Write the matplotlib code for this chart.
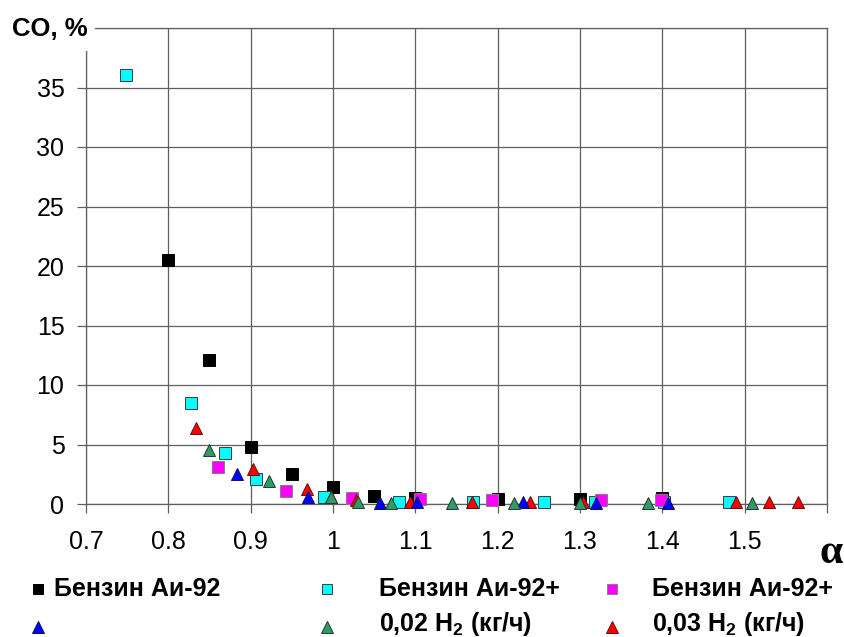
import matplotlib
matplotlib.use("Agg")
import matplotlib.pyplot as plt
from matplotlib.lines import Line2D
from matplotlib.patches import Rectangle

plt.rcParams['font.family'] = ['Liberation Sans', 'DejaVu Sans']
plt.rcParams['mathtext.default'] = 'regular'

# CO concentration vs excess air ratio
black_x = [0.80, 0.85, 0.90, 0.95, 1.00, 1.05, 1.10, 1.20, 1.30, 1.40]
black_y = [20.5, 12.1, 4.8, 2.55, 1.43, 0.65, 0.5, 0.4, 0.4, 0.5]

cyan_x = [0.748, 0.827, 0.869, 0.907, 0.989, 1.08, 1.17, 1.256, 1.318, 1.402, 1.481]
cyan_y = [36.05, 8.5, 4.3, 2.1, 0.6, 0.2, 0.17, 0.17, 0.2, 0.2, 0.17]

magenta_x = [0.86, 0.943, 1.023, 1.106, 1.193, 1.326, 1.398]
magenta_y = [3.1, 1.07, 0.5, 0.4, 0.33, 0.33, 0.37]

blue_x = [0.883, 0.97, 1.057, 1.102, 1.231, 1.32, 1.407]
blue_y = [2.5, 0.55, 0.1, 0.2, 0.15, 0.1, 0.08]

green_x = [0.849, 0.922, 0.997, 1.030, 1.071, 1.144, 1.22, 1.30, 1.383, 1.509]
green_y = [4.5, 1.9, 0.56, 0.2, 0.1, 0.1, 0.1, 0.1, 0.1, 0.1]

red_x = [0.834, 0.903, 0.968, 0.998, 1.028, 1.093, 1.169, 1.239, 1.304, 1.489, 1.529, 1.565]
red_y = [6.4, 2.94, 1.24, 0.6, 0.3, 0.2, 0.15, 0.15, 0.15, 0.15, 0.15, 0.15]

x_ticks = [0.7, 0.8, 0.9, 1.0, 1.1, 1.2, 1.3, 1.4, 1.5, 1.6]
x_labels = ['0.7', '0.8', '0.9', '1', '1.1', '1.2', '1.3', '1.4', '1.5', '']
y_ticks = [0, 5, 10, 15, 20, 25, 30, 35, 40]
y_labels = ['0', '5', '10', '15', '20', '25', '30', '35', '']

leg_row1 = ['Бензин Аи-92', 'Бензин Аи-92+', 'Бензин Аи-92+']
leg_row2 = ['', '0,02 H$_2$ (кг/ч)', '0,03 H$_2$ (кг/ч)']

sq_style = dict(marker='s', markersize=8, markeredgewidth=0.7)
tri_style = dict(marker='^', markersize=9, markeredgewidth=0.7)

series = [
    (black_x, black_y, dict(sq_style, color='black', markeredgecolor='black')),
    (cyan_x, cyan_y, dict(sq_style, color='#00ffff', markeredgecolor='#3c3c3c')),
    (magenta_x, magenta_y, dict(sq_style, color='#ff00ff', markeredgecolor='#808080')),
    (red_x, red_y, dict(tri_style, color='#ff0000', markeredgecolor='#5a1010')),
    (blue_x, blue_y, dict(tri_style, color='#0000ff', markeredgecolor='#10105a')),
    (green_x, green_y, dict(tri_style, color='#339966', markeredgecolor='#1e3c2c')),
]

fig = plt.figure(figsize=(8.45, 6.37), dpi=100)
ax = fig.add_axes([86 / 845, 1 - 504 / 637, 741 / 845, 476 / 637])

for xs, ys, st in series:
    ax.plot(xs, ys, linestyle='none', clip_on=False, zorder=3, **st)

ax.set_xlim(0.7, 1.6)
ax.set_ylim(0, 40)
ax.set_xticks(x_ticks)
ax.set_xticklabels(x_labels)
ax.set_yticks(y_ticks)
ax.set_yticklabels(y_labels)
ax.grid(True, color='#5f5f5f', linewidth=0.9)
ax.set_axisbelow(True)
for sp in ax.spines.values():
    sp.set_color('#5f5f5f')
    sp.set_linewidth(0.9)
ax.tick_params(axis='both', labelsize=18, length=6.5, width=0.9, color='#5f5f5f')
ax.tick_params(axis='x', pad=12)
ax.tick_params(axis='y', pad=9)

# blank out the top-left corner behind the axis title
fig.patches.append(Rectangle((0, 1 - 51 / 637), 95 / 845, 51 / 637,
                             transform=fig.transFigure, facecolor='white',
                             edgecolor='none', zorder=5))
fig.text(12 / 845, 1 - 36 / 637, 'CO, %', fontsize=18.5, fontweight='bold',
         ha='left', va='baseline', zorder=6)
fig.text(831 / 845, 1 - 553 / 637, 'α', fontsize=30, fontweight='bold',
         family='Liberation Serif', ha='center', va='center')

# legend laid out by hand in two rows
col_marker_x = [38, 327, 612]
col_text_x = [54, 379, 652]
row1_y = 1 - 589 / 637
row2_y = 1 - 624 / 637
row1_st = [series[0][2], series[1][2], series[2][2]]
row2_st = [series[4][2], series[5][2], series[3][2]]
for i in range(3):
    mx = col_marker_x[i] / 845
    s1 = dict(row1_st[i])
    s1['markersize'] = 7
    fig.add_artist(Line2D([mx], [row1_y], transform=fig.transFigure, **s1))
    s2 = dict(row2_st[i])
    s2['markersize'] = 8
    fig.add_artist(Line2D([mx], [row2_y - 0.004], transform=fig.transFigure, **s2))
    fig.text(col_text_x[i] / 845, row1_y, leg_row1[i], fontsize=18,
             fontweight='bold', ha='left', va='center')
    if leg_row2[i]:
        fig.text(col_text_x[i] / 845, row2_y, leg_row2[i], fontsize=18,
                 fontweight='bold', ha='left', va='center')

fig.savefig('out.png', dpi=100)
